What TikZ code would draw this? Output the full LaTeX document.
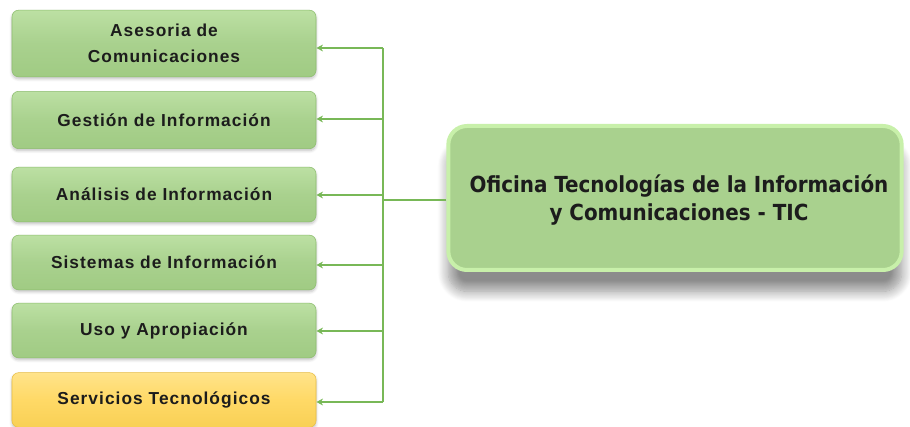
\documentclass[tikz,border=0pt]{standalone}
\usepackage{fontspec}
\setmainfont{Liberation Sans}
\newfontfamily\unitfont[LetterSpace=6]{Liberation Sans}
\newfontfamily\headfont{DejaVu Sans Condensed}
\usetikzlibrary{arrows.meta,shadows.blur}
\definecolor{boxgreen}{HTML}{A9D18E}
\definecolor{boxgreenhi}{HTML}{BCE0A3}
\definecolor{boxgreenlo}{HTML}{A0CB83}
\definecolor{boxedge}{HTML}{8DBE6E}
\definecolor{boxyellow}{HTML}{FFD966}
\definecolor{boxyellowhi}{HTML}{FFE38A}
\definecolor{boxyellowlo}{HTML}{F8D055}
\definecolor{yellowedge}{HTML}{E8BE45}
\definecolor{linkgreen}{HTML}{78B857}
\definecolor{glowgreen}{HTML}{C8F0AA}
\definecolor{textdark}{HTML}{1C1C1C}
\tikzset{
  unitbox/.style={rounded corners=5pt, minimum width=228pt, inner sep=0pt,
    top color=boxgreenhi, bottom color=boxgreenlo, middle color=boxgreen,
    draw=boxedge, line width=0.4pt,
    blur shadow={shadow xshift=0pt, shadow yshift=-1.5pt, shadow opacity=25, shadow blur steps=5},
    font=\unitfont\bfseries\fontsize{13}{19.5}\selectfont, text=textdark, align=center},
  techbox/.style={unitbox, top color=boxyellowhi, bottom color=boxyellowlo,
    middle color=boxyellow, draw=yellowedge},
  headbox/.style={rounded corners=14pt, minimum width=340pt, minimum height=108pt,
    fill=boxgreen, draw=glowgreen, line width=3pt,
    blur shadow={shadow xshift=0pt, shadow yshift=-16pt, shadow opacity=45, shadow blur steps=14, shadow blur radius=8pt},
    font=\headfont\bfseries\fontsize{16.6}{21}\selectfont, text=textdark, align=center},
  link/.style={draw=linkgreen, line width=1.5pt},
  linkarrow/.style={link, -{Stealth[length=5pt,width=5pt]}}
}
\begin{document}
\begin{tikzpicture}[x=0.75pt,y=-0.75pt]
\useasboundingbox (0,0) rectangle (910,427);

% unit boxes on the left
\node[unitbox, minimum height=50pt] (u1) at (164,43.5) {Asesoria de\\Comunicaciones};
\node[unitbox, minimum height=43pt] (u2) at (164,120) {Gestión de Información};
\node[unitbox, minimum height=41pt] (u3) at (164,194.5) {Análisis de Información};
\node[unitbox, minimum height=41pt] (u4) at (164,262.5) {Sistemas de Información};
\node[unitbox, minimum height=41pt] (u5) at (164,330.5) {Uso y Apropiación};
\node[techbox, minimum height=41pt] (u6) at (164,400) {Servicios Tecnológicos};

% head office
\node[headbox] (tic) at (675,198) {};
\node[font=\headfont\bfseries\fontsize{16.6}{21}\selectfont, text=textdark, align=center]
  (ticlabel) at (679,200) {Oficina Tecnologías de la Información\\y Comunicaciones - TIC};

% branch points on the trunk
\coordinate (t0) at (383,200);
\coordinate (t1) at (383,48);
\coordinate (t2) at (383,119);
\coordinate (t3) at (383,195);
\coordinate (t4) at (383,265);
\coordinate (t5) at (383,331);
\coordinate (t6) at (383,402);

\draw[link] (tic.west |- t0) -- (t0);
\draw[link] (t1) -- (t6);
\draw[linkarrow] (t1) -- (u1.east |- t1);
\draw[linkarrow] (t2) -- (u2.east |- t2);
\draw[linkarrow] (t3) -- (u3.east |- t3);
\draw[linkarrow] (t4) -- (u4.east |- t4);
\draw[linkarrow] (t5) -- (u5.east |- t5);
\draw[linkarrow] (t6) -- (u6.east |- t6);
\end{tikzpicture}
\end{document}
